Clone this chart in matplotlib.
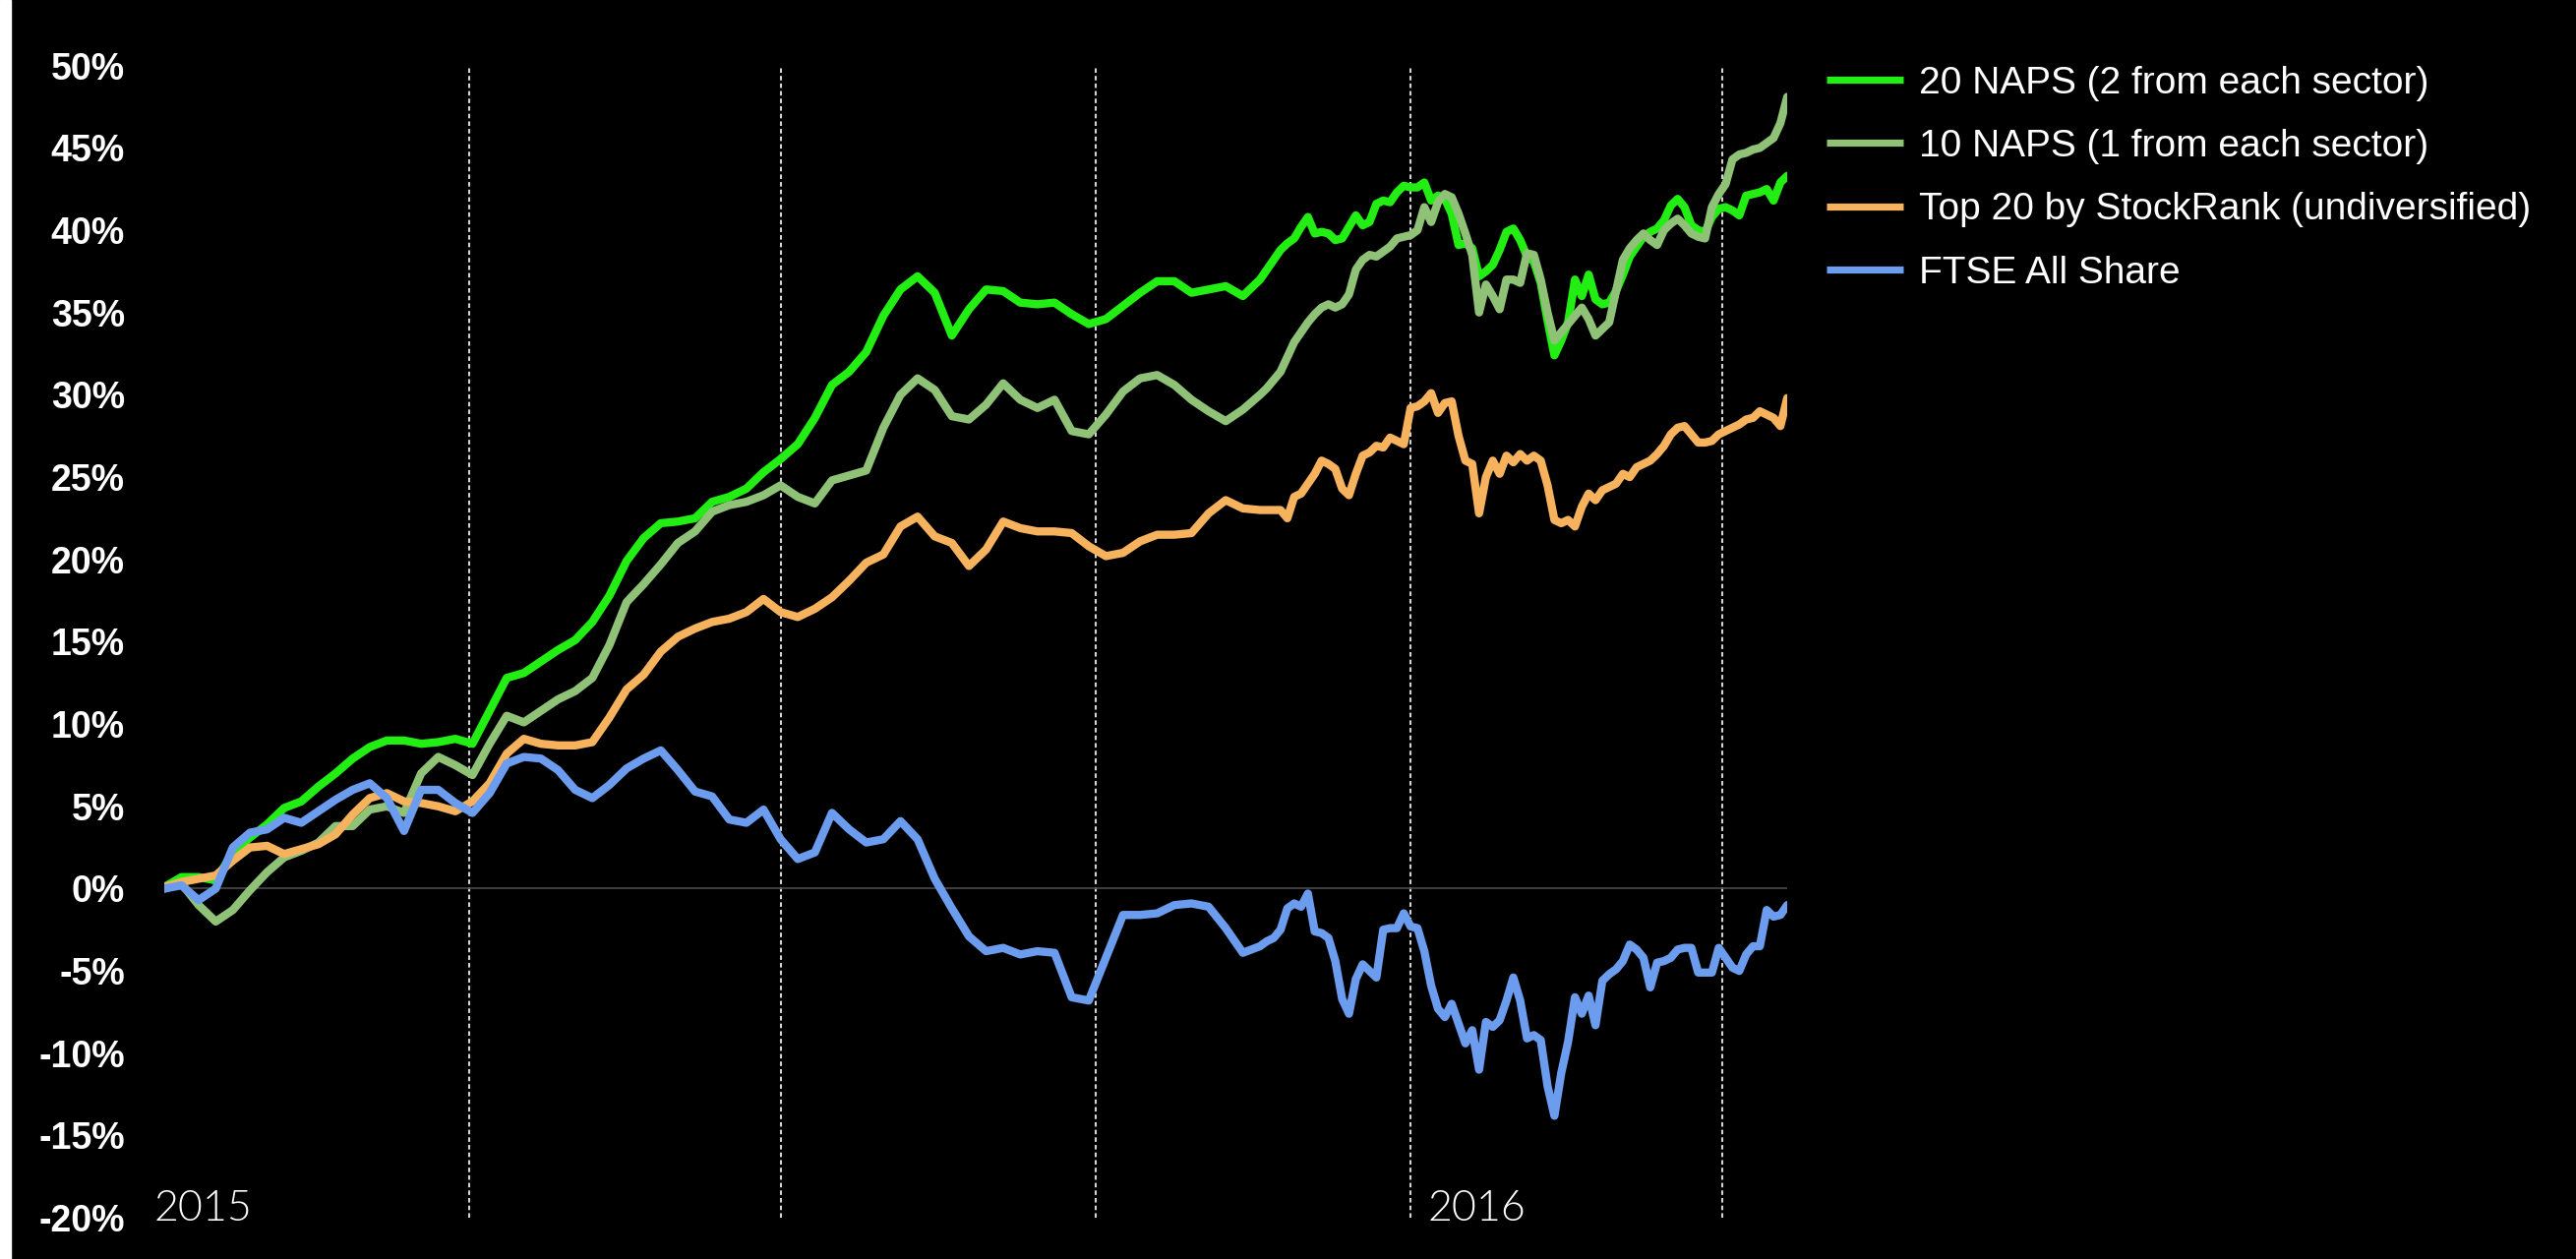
import numpy as np
import pandas as pd
import matplotlib
matplotlib.use("Agg")
import matplotlib.pyplot as plt
from matplotlib.patches import Rectangle

# weekly-ish points through mid Nov 2015, then every other day
dates = pd.date_range("2015-01-02", periods=64, freq="5D").append(
    pd.date_range("2015-11-18", periods=78, freq="2D"))

naps20 = [
    0.1, 0.7, 0.7, 0.5, 2.2, 3.1, 3.9, 4.9, 5.3, 6.2,
    7.0, 7.9, 8.6, 9.0, 9.0, 8.8, 8.9, 9.1, 8.8, 10.8,
    12.8, 13.1, 13.8, 14.5, 15.1, 16.2, 17.8, 19.9, 21.3, 22.2,
    22.3, 22.5, 23.5, 23.8, 24.3, 25.3, 26.1, 27.0, 28.6, 30.6,
    31.4, 32.6, 34.8, 36.4, 37.2, 36.2, 33.6, 35.2, 36.4, 36.3,
    35.6, 35.5, 35.6, 34.9, 34.3, 34.6, 35.4, 36.2, 36.9, 36.9,
    36.2, 36.4, 36.6, 36.0,
    37.0, 37.6, 38.2, 38.8, 39.2, 39.5, 40.2, 40.8, 39.8, 39.9,
    39.8, 39.4, 39.5, 40.2, 40.9, 40.3, 40.5, 41.6, 41.8, 41.7,
    42.3, 42.7, 42.6, 42.6, 42.9, 41.8, 42.1, 41.9, 41.0, 39.1,
    39.2, 38.9, 37.2, 37.5, 37.9, 38.8, 39.9, 40.1, 39.4, 38.4,
    38.1, 36.8, 34.5, 32.4, 33.3, 34.4, 37.0, 36.0, 37.3, 35.8,
    35.5, 35.6, 36.3, 37.3, 38.4, 39.0, 39.6, 39.9, 40.1, 40.6,
    41.5, 41.9, 41.4, 40.3, 40.0, 39.9, 40.8, 41.3, 41.4, 41.2,
    40.9, 42.1, 42.2, 42.3, 42.5, 41.8, 42.9, 43.3,
]

naps10 = [
    0.0, 0.3, -1.0, -2.0, -1.3, -0.1, 1.0, 1.9, 2.3, 2.8,
    3.8, 3.8, 4.8, 5.0, 4.6, 7.0, 8.0, 7.5, 6.9, 8.8,
    10.5, 10.1, 10.8, 11.5, 12.0, 12.8, 14.8, 17.4, 18.5, 19.7,
    21.0, 21.7, 22.9, 23.3, 23.5, 23.9, 24.5, 23.8, 23.4, 24.8,
    25.1, 25.4, 28.0, 30.0, 31.0, 30.3, 28.7, 28.5, 29.4, 30.7,
    29.7, 29.2, 29.7, 27.8, 27.6, 28.8, 30.2, 31.0, 31.2, 30.6,
    29.7, 29.0, 28.4, 29.1,
    30.0, 30.4, 30.9, 31.4, 32.3, 33.2, 33.8, 34.4, 34.9, 35.3,
    35.5, 35.3, 35.5, 36.1, 37.6, 38.2, 38.5, 38.4, 38.7, 39.0,
    39.5, 39.6, 39.7, 40.0, 41.4, 40.5, 41.7, 42.2, 42.0, 41.0,
    39.8, 38.5, 35.0, 36.7, 36.0, 35.2, 37.0, 37.0, 36.8, 38.6,
    38.5, 37.0, 35.0, 33.3, 33.8, 34.3, 34.8, 35.3, 34.6, 33.6,
    34.0, 34.4, 36.3, 38.2, 38.9, 39.4, 39.8, 39.4, 39.1, 40.0,
    40.4, 40.7, 40.3, 39.8, 39.6, 39.5, 41.4, 42.2, 42.8, 44.3,
    44.6, 44.7, 44.9, 45.0, 45.3, 45.6, 46.5, 48.1,
]

top20 = [
    0.1, 0.4, 0.6, 0.8, 1.7, 2.5, 2.6, 2.1, 2.4, 2.7,
    3.3, 4.5, 5.5, 5.8, 5.3, 5.2, 5.0, 4.7, 5.3, 6.4,
    8.2, 9.1, 8.8, 8.7, 8.7, 8.9, 10.4, 12.1, 13.0, 14.4,
    15.3, 15.8, 16.2, 16.4, 16.8, 17.6, 16.8, 16.5, 17.0, 17.7,
    18.7, 19.8, 20.3, 22.0, 22.6, 21.4, 21.0, 19.6, 20.6, 22.3,
    21.9, 21.7, 21.7, 21.6, 20.8, 20.2, 20.4, 21.1, 21.5, 21.5,
    21.6, 22.8, 23.6, 23.1,
    23.0, 23.0, 23.0, 23.0, 22.5, 23.8, 24.0, 24.6, 25.2, 26.0,
    25.8, 25.5, 24.3, 23.9, 25.2, 26.3, 26.5, 26.9, 26.8, 27.4,
    27.2, 27.0, 29.2, 29.3, 29.6, 30.1, 28.9, 29.5, 29.6, 27.5,
    26.0, 25.8, 22.8, 25.0, 26.0, 25.2, 26.3, 25.9, 26.4, 26.0,
    26.3, 26.0, 24.5, 22.4, 22.2, 22.4, 22.0, 23.2, 24.0, 23.6,
    24.2, 24.4, 24.6, 25.2, 25.0, 25.6, 25.8, 26.0, 26.4, 26.9,
    27.6, 28.0, 28.1, 27.6, 27.1, 27.1, 27.2, 27.6, 27.8, 28.0,
    28.2, 28.5, 28.6, 29.0, 28.8, 28.6, 28.1, 29.8,
]

ftse = [
    0.0, 0.2, -0.7, 0.0, 2.5, 3.4, 3.6, 4.3, 4.0, 4.7,
    5.4, 6.0, 6.4, 5.5, 3.5, 6.0, 6.0, 5.2, 4.6, 5.8,
    7.6, 8.0, 7.9, 7.2, 6.0, 5.5, 6.3, 7.3, 7.9, 8.4,
    7.2, 5.9, 5.6, 4.2, 4.0, 4.8, 3.0, 1.8, 2.2, 4.6,
    3.6, 2.8, 3.0, 4.1, 3.0, 0.6, -1.2, -2.9, -3.8, -3.6,
    -4.0, -3.8, -3.9, -6.6, -6.8, -4.2, -1.6, -1.6, -1.5, -1.0,
    -0.9, -1.1, -2.4, -3.9,
    -3.5, -3.2, -3.0, -2.5, -1.2, -0.9, -1.1, -0.3, -2.6, -2.7,
    -3.0, -4.4, -6.7, -7.6, -5.5, -4.6, -5.0, -5.4, -2.5, -2.4,
    -2.4, -1.5, -2.3, -2.4, -3.8, -5.9, -7.3, -7.8, -7.0, -8.2,
    -9.4, -8.6, -11.0, -8.1, -8.4, -8.0, -6.8, -5.4, -6.8, -9.1,
    -8.9, -9.2, -12.0, -13.8, -11.2, -9.3, -6.6, -7.6, -6.5, -8.3,
    -5.6, -5.2, -4.9, -4.4, -3.4, -3.7, -4.2, -6.0, -4.5, -4.4,
    -4.2, -3.7, -3.6, -3.6, -5.1, -5.1, -5.1, -3.6, -4.2, -4.8,
    -5.0, -4.0, -3.5, -3.5, -1.3, -1.7, -1.6, -1.0,
]

names = ["20 NAPS (2 from each sector)", "10 NAPS (1 from each sector)",
         "Top 20 by StockRank (undiversified)", "FTSE All Share"]
colors = ["#22ee14", "#8fc276", "#f7b25e", "#6b9cee"]

quarters = pd.to_datetime(["2015-04-01", "2015-07-01", "2015-10-01",
                           "2016-01-01", "2016-04-01"])
year_labels = ["2015", "2016"]
year_pos = pd.to_datetime(["2014-12-30", "2016-01-06"])
yticks = list(range(-20, 55, 5))

fig = plt.figure(figsize=(26.19, 12.8), dpi=100, facecolor="black")
ax = fig.add_axes([0.0638, 0.0327, 0.630, 0.9152])
ax.set_facecolor("black")

# thin white strip down the left edge
fig.add_artist(Rectangle((0, 0), 11 / 2619, 1, transform=fig.transFigure,
                         color="white", zorder=0))

for q in quarters:
    ax.axvline(q, color="#d4d4d4", lw=1.5, ls=(0, (2.2, 1.5)), zorder=1)
ax.axhline(0, color="#4a4a4a", lw=1.2, zorder=1)

lines = []
for vals, name, c in zip([naps20, naps10, top20, ftse], names, colors):
    ln, = ax.plot(dates, vals, color=c, lw=6, label=name,
                  solid_joinstyle="round", solid_capstyle="round", zorder=3)
    lines.append(ln)

ax.set_xlim(dates[0], dates[-1])
ax.set_ylim(-20, 50)
ax.set_xticks([])
ax.set_yticks(yticks)
ax.set_yticklabels([f"{v}%" for v in yticks], fontsize=27,
                   fontweight="bold", color="white", family="Liberation Sans")
ax.tick_params(axis="y", length=0, pad=29)
for s in ax.spines.values():
    s.set_visible(False)

for x, t in zip(year_pos, year_labels):
    ax.text(x, -20.18, t, color="white", fontsize=31, family="Lato",
            fontweight=300, ha="left", va="baseline", clip_on=False)

leg = fig.legend(handles=lines, loc="upper left", bbox_to_anchor=(0.709, 0.948),
                 frameon=False, prop={"family": "Liberation Sans", "size": 28},
                 labelcolor="white", handlelength=2.0, handletextpad=0.42,
                 labelspacing=0.73, borderpad=0, borderaxespad=0)
for h in leg.legend_handles:
    h.set_linewidth(5.2)
    h.set_solid_capstyle("butt")

fig.savefig("out.png", dpi=100, facecolor="black")
